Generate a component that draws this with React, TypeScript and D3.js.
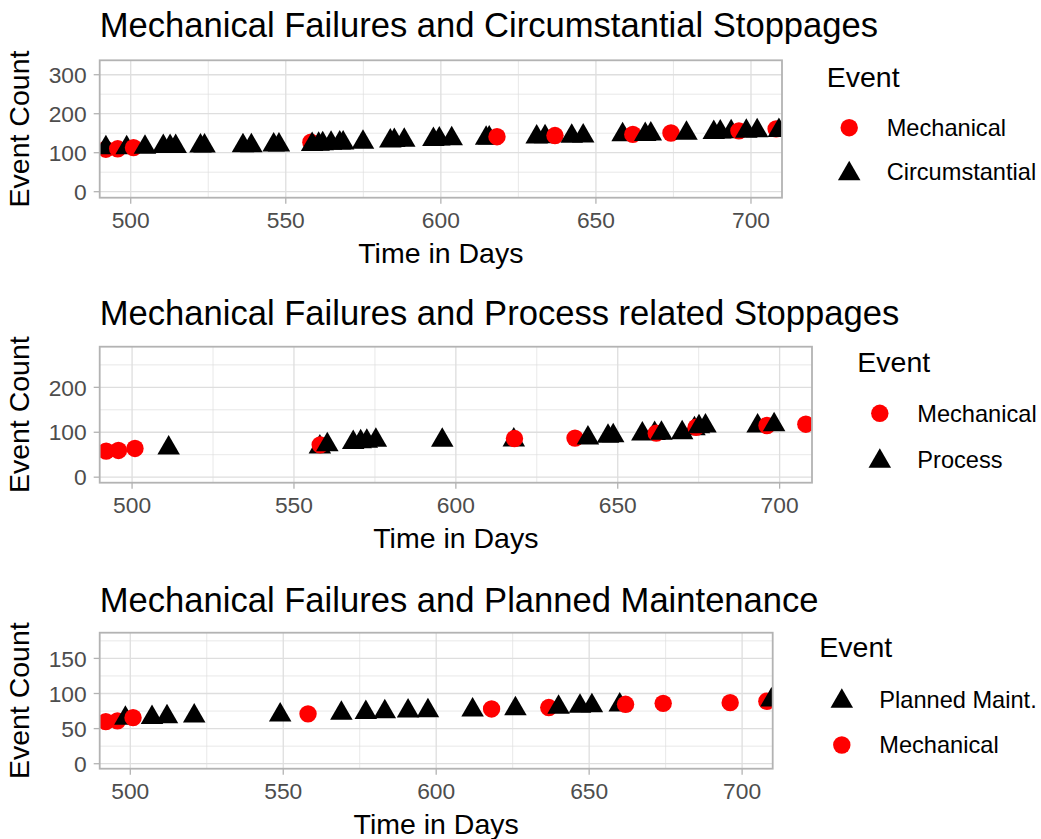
import React from "react";
import * as d3 from "d3";

// ---- Data -------------------------------------------------------------

// Mechanical failures (shared event days, cumulative count per panel)
const mechDays = [492, 495.8, 500.9, 558.1, 618.1, 636.8, 661.9, 674.2, 696.1, 708.1];
const mechCountCirc = [109, 110, 113, 127, 141, 144, 147, 150.5, 156, 161];
const mechCountProc = [58, 59.5, 64, 72, 86, 87, 98, 111, 115, 118];
const mechCountPlan = [60, 61, 65.6, 71, 78, 80, 84.6, 86, 87, 89];

// Circumstantial stoppages
const circDays = [
  492, 498.7, 504.6, 510.5, 512.7, 514.5, 522.5, 523.8, 536.2, 538.9, 546.1, 547.8,
  558.5, 560.6, 561.9, 564.6, 567.4, 568.5, 574.9, 583.7, 585, 588.2, 597.6, 599.5,
  603.5, 614.6, 615.6, 630.9, 633.6, 642.2, 645.9, 658.6, 665.9, 667.7, 679.2, 688,
  690.1, 693.6, 698.5, 702, 709,
];
const circCounts = [
  113, 113, 114, 116, 116, 116, 117, 117, 118, 118, 120, 120,
  121, 122, 123, 124, 125, 125, 127, 130, 131, 132, 134, 135,
  136, 137, 138, 140, 141, 142, 143, 146, 147, 148, 150, 152,
  153, 154, 155, 156, 157,
];

// Process related stoppages
const procDays = [
  511.3, 558, 560.3, 568.3, 570.6, 572.5, 575.3, 595.8, 617.9, 640.8, 647, 648.6,
  657.6, 661.4, 663.5, 669.9, 673.7, 675.1, 677.1, 693.2, 698.3,
];
const procCounts = [
  65, 67, 72, 77, 79, 80, 82, 82, 83, 87, 91, 92,
  96, 97, 98, 99, 108, 112, 114, 114, 117,
];

// Planned maintenance
const planDays = [
  498.4, 507.1, 512, 520.9, 549, 569, 577, 583.2, 590.8, 597.3, 611.9, 625.9,
  640, 647, 650.9, 660, 709.6,
];
const planCounts = [
  64.7, 66, 67, 68, 69.4, 72, 73, 74, 75, 75.6, 76.5, 78.4,
  80.3, 82, 82.5, 83.6, 90.7,
];

const xTicks = [500, 550, 600, 650, 700];
const xMinor = [525, 575, 625, 675];
const xDomain: [number, number] = [490, 710];

// ---- Styling ----------------------------------------------------------

const FONT = "'Liberation Sans', Arial, Helvetica, sans-serif";
const TICK_TEXT = "#4D4D4D";
const GRID = "#DEDEDE";
const BORDER = "#B3B3B3";
const RED = "#FF0000";
const BLACK = "#000000";
const CIRCLE_R = 8.7;
const TRI_R = 13;

type Shape = "circle" | "triangle";

interface SeriesDef {
  name: string;
  shape: Shape;
  color: string;
  days: number[];
  counts: number[];
}

interface PanelDef {
  title: string;
  titleBaseline: number;
  box: { x0: number; x1: number; y0: number; y1: number };
  yDomain: [number, number];
  yTicks: number[];
  yMinor: number[];
  series: SeriesDef[];
  legendOrder: string[];
  legend: { x: number; titleBaseline: number; itemY: number[] };
}

const mechanical = (counts: number[]): SeriesDef => ({
  name: "Mechanical",
  shape: "circle",
  color: RED,
  days: mechDays,
  counts,
});

const panels: PanelDef[] = [
  {
    title: "Mechanical Failures and Circumstantial Stoppages",
    titleBaseline: 37,
    box: { x0: 99.7, x1: 782, y0: 60.3, y1: 197.7 },
    yDomain: [-15.4, 337],
    yTicks: [0, 100, 200, 300],
    yMinor: [50, 150, 250],
    series: [
      mechanical(mechCountCirc),
      { name: "Circumstantial", shape: "triangle", color: BLACK, days: circDays, counts: circCounts },
    ],
    legendOrder: ["Mechanical", "Circumstantial"],
    legend: { x: 826.7, titleBaseline: 86.7, itemY: [127.7, 171.7] },
  },
  {
    title: "Mechanical Failures and Process related Stoppages",
    titleBaseline: 324.5,
    box: { x0: 99.7, x1: 812, y0: 346.7, y1: 482.7 },
    yDomain: [-12.3, 290.5],
    yTicks: [0, 100, 200],
    yMinor: [50, 150, 250],
    series: [
      mechanical(mechCountProc),
      { name: "Process", shape: "triangle", color: BLACK, days: procDays, counts: procCounts },
    ],
    legendOrder: ["Mechanical", "Process"],
    legend: { x: 857.3, titleBaseline: 371.7, itemY: [413.3, 459.3] },
  },
  {
    title: "Mechanical Failures and Planned Maintenance",
    titleBaseline: 612,
    box: { x0: 99.7, x1: 772.7, y0: 632.7, y1: 768.7 },
    yDomain: [-7.1, 186.6],
    yTicks: [0, 50, 100, 150],
    yMinor: [25, 75, 125, 175],
    series: [
      mechanical(mechCountPlan),
      { name: "Planned Maint.", shape: "triangle", color: BLACK, days: planDays, counts: planCounts },
    ],
    legendOrder: ["Planned Maint.", "Mechanical"],
    legend: { x: 819.3, titleBaseline: 657.3, itemY: [699.3, 745] },
  },
];

// ---- Drawing ----------------------------------------------------------

function Marker({ shape, color, x, y }: { shape: Shape; color: string; x: number; y: number }) {
  if (shape === "circle") return <circle cx={x} cy={y} r={CIRCLE_R} fill={color} />;
  const hw = TRI_R * 0.866;
  const d = `M${x},${y - TRI_R}L${x + hw},${y + TRI_R / 2}L${x - hw},${y + TRI_R / 2}Z`;
  return <path d={d} fill={color} />;
}

function Panel({ p, idx }: { p: PanelDef; idx: number }) {
  const { box } = p;
  const x = d3.scaleLinear().domain(xDomain).range([box.x0, box.x1]);
  const y = d3.scaleLinear().domain(p.yDomain).range([box.y1, box.y0]);
  const clipId = `clip-${idx}`;

  // all points in time order so later events are drawn on top
  const points = p.series
    .flatMap((s) => s.days.map((d, i) => ({ day: d, count: s.counts[i], shape: s.shape, color: s.color })))
    .sort((a, b) => a.day - b.day);

  const cx = (box.x0 + box.x1) / 2;
  const cy = (box.y0 + box.y1) / 2;

  return (
    <g>
      <defs>
        <clipPath id={clipId}>
          <rect x={box.x0} y={box.y0} width={box.x1 - box.x0} height={box.y1 - box.y0} />
        </clipPath>
      </defs>
      <text x={box.x0} y={p.titleBaseline} fontSize={34.6} fill="#000" fontFamily={FONT}>
        {p.title}
      </text>

      {/* grid */}
      <g clipPath={`url(#${clipId})`}>
        {p.yMinor.map((v) => (
          <line key={`ym${v}`} x1={box.x0} x2={box.x1} y1={y(v)} y2={y(v)} stroke={GRID} strokeWidth={0.7} />
        ))}
        {xMinor.map((v) => (
          <line key={`xm${v}`} x1={x(v)} x2={x(v)} y1={box.y0} y2={box.y1} stroke={GRID} strokeWidth={0.7} />
        ))}
        {p.yTicks.map((v) => (
          <line key={`y${v}`} x1={box.x0} x2={box.x1} y1={y(v)} y2={y(v)} stroke={GRID} strokeWidth={1.3} />
        ))}
        {xTicks.map((v) => (
          <line key={`x${v}`} x1={x(v)} x2={x(v)} y1={box.y0} y2={box.y1} stroke={GRID} strokeWidth={1.3} />
        ))}
        {points.map((pt, i) => (
          <Marker key={i} shape={pt.shape} color={pt.color} x={x(pt.day)} y={y(pt.count)} />
        ))}
      </g>

      <rect
        x={box.x0}
        y={box.y0}
        width={box.x1 - box.x0}
        height={box.y1 - box.y0}
        fill="none"
        stroke={BORDER}
        strokeWidth={1.8}
      />

      {/* y axis */}
      {p.yTicks.map((v) => (
        <g key={`yt${v}`}>
          <line x1={box.x0 - 6} x2={box.x0} y1={y(v)} y2={y(v)} stroke={BORDER} strokeWidth={1.3} />
          <text
            x={box.x0 - 13}
            y={y(v)}
            dy="0.36em"
            textAnchor="end"
            fontSize={22.8}
            fill={TICK_TEXT}
            fontFamily={FONT}
          >
            {v}
          </text>
        </g>
      ))}

      {/* x axis */}
      {xTicks.map((v) => (
        <g key={`xt${v}`}>
          <line x1={x(v)} x2={x(v)} y1={box.y1} y2={box.y1 + 6} stroke={BORDER} strokeWidth={1.3} />
          <text
            x={x(v)}
            y={box.y1 + 30}
            textAnchor="middle"
            fontSize={22.8}
            fill={TICK_TEXT}
            fontFamily={FONT}
          >
            {v}
          </text>
        </g>
      ))}

      <text x={cx} y={box.y1 + 65} textAnchor="middle" fontSize={28.5} fill="#000" fontFamily={FONT}>
        Time in Days
      </text>
      <text
        transform={`translate(29,${cy}) rotate(-90)`}
        textAnchor="middle"
        fontSize={28.5}
        fill="#000"
        fontFamily={FONT}
      >
        Event Count
      </text>

      {/* legend */}
      <text x={p.legend.x} y={p.legend.titleBaseline} fontSize={28.5} fill="#000" fontFamily={FONT}>
        Event
      </text>
      {p.legendOrder.map((name, i) => {
        const s = p.series.find((ss) => ss.name === name)!;
        const ly = p.legend.itemY[i];
        return (
          <g key={name}>
            <Marker shape={s.shape} color={s.color} x={p.legend.x + 22.5} y={s.shape === "triangle" ? ly + 2 : ly} />
            <text x={p.legend.x + 60} y={ly} dy="0.36em" fontSize={23.6} fill="#000" fontFamily={FONT}>
              {name}
            </text>
          </g>
        );
      })}
    </g>
  );
}

export default function App() {
  return (
    <svg
      width={1041}
      height={839}
      style={{ position: "absolute", left: 0, top: 0, background: "#fff" }}
      fontFamily={FONT}
    >
      <rect width={1041} height={839} fill="#fff" />
      {panels.map((p, i) => (
        <Panel key={i} p={p} idx={i} />
      ))}
    </svg>
  );
}
